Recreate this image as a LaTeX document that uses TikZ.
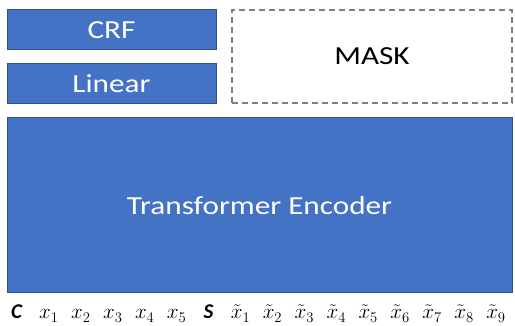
\documentclass[tikz,border=0pt]{standalone}
\usepackage{fix-cm}
\usepackage{fontspec}
\setmainfont{Carlito}
\definecolor{boxblue}{HTML}{4472C4}
\definecolor{boxedge}{HTML}{2F528F}
\definecolor{maskgray}{HTML}{7F7F7F}
\newcommand{\widetext}[1]{\scalebox{1.2}[1]{#1}}
\begin{document}
\begin{tikzpicture}[x=1pt,y=-1pt,
  block/.style={draw=boxedge, line width=1pt, fill=boxblue, text=white, inner sep=0pt,
    font=\fontsize{26}{30}\selectfont},
  maskbox/.style={draw=maskgray, line width=1.2pt, dash pattern=on 6pt off 4pt, inner sep=0pt,
    font=\fontsize{26}{30}\selectfont},
  token/.style={anchor=base, inner sep=0pt, font=\fontsize{21}{24}\selectfont}]
\useasboundingbox (0,0) rectangle (515,326);
% Draw output layers
\node[block, minimum width=209pt, minimum height=40pt] (crf) at (111.5,30) {\widetext{CRF}};
\node[block, minimum width=209pt, minimum height=40pt] (linear) at (111.5,84) {\widetext{Linear}};
% Draw mask region
\node[maskbox, minimum width=280pt, minimum height=93pt] (mask) at (372,56.5) {\widetext{MASK}};
% Draw big encoder
\node[block, minimum width=505pt, minimum height=175pt] (encoder) at (259.5,205.5) {\widetext{Transformer Encoder}};
% Input tokens
\foreach \i/\tok in {0/{\textbf{\textit{C}}}, 1/{$x_1$}, 2/{$x_2$}, 3/{$x_3$}, 4/{$x_4$}, 5/{$x_5$},
    6/{\textbf{\textit{S}}}, 7/{$\tilde{x}_1$}, 8/{$\tilde{x}_2$}, 9/{$\tilde{x}_3$}, 10/{$\tilde{x}_4$},
    11/{$\tilde{x}_5$}, 12/{$\tilde{x}_6$}, 13/{$\tilde{x}_7$}, 14/{$\tilde{x}_8$}, 15/{$\tilde{x}_9$}}
  \node[token] (tok-\i) at (17+31.93*\i,319) {\tok};
\end{tikzpicture}
\end{document}
